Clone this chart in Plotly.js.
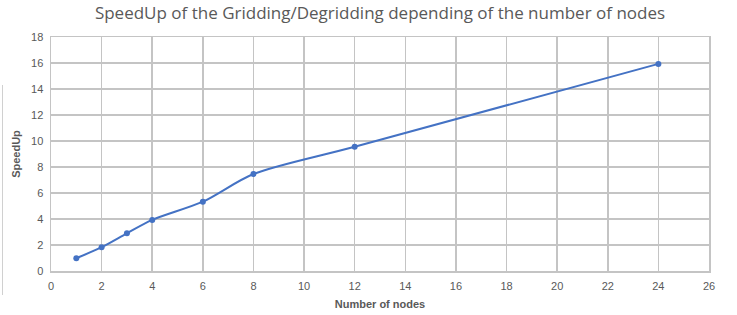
<!DOCTYPE html>
<html><head><meta charset="utf-8">
<script src="https://cdn.plot.ly/plotly-3.0.1.min.js"></script>
<style>body{margin:0;background:#fff}#c{width:737px;height:315px;position:relative}
#edge{position:absolute;left:2px;top:85px;width:0;height:210px;border-left:1px solid #d0d0d0;z-index:5}</style>
</head><body><div id="c"><div id="edge"></div></div>
<script>
const nodes = [1, 2, 3, 4, 6, 8, 12, 24];
const speedup = [0.98, 1.83, 2.9, 3.93, 5.33, 7.46, 9.56, 15.93];
const xTicks = [0,2,4,6,8,10,12,14,16,18,20,22,24,26];
const yTicks = [0,2,4,6,8,10,12,14,16,18];
const txt = '#595959';
Plotly.newPlot('c', [{
  x: nodes, y: speedup, type: 'scatter', mode: 'lines+markers',
  line: {color: '#4472C4', width: 2, shape: 'spline', smoothing: 0.8},
  marker: {color: '#4472C4', size: 6}
}], {
  width: 737, height: 315,
  margin: {l: 51, r: 28, t: 37, b: 44},
  paper_bgcolor: '#fff', plot_bgcolor: '#fff',
  font: {family: 'Liberation Sans, Arial, sans-serif', color: txt, size: 11},
  title: {text: 'SpeedUp of the Gridding/Degridding depending of the number of nodes',
    font: {size: 17, color: txt, family: 'Open Sans, Liberation Sans, sans-serif'}, xref: 'paper', x: 0.5, xanchor: 'center', y: 0.96, yanchor: 'middle'},
  showlegend: false,
  xaxis: {range: [0, 26], tickvals: xTicks, ticktext: xTicks.map(String), showgrid: true, gridcolor: '#c4c4c4', gridwidth: 1.5,
    showline: true, linecolor: '#c4c4c4', linewidth: 1.5, mirror: true, zeroline: false, ticks: '', ticklen: 0,
    ticklabelstandoff: 4,
    tickfont: {size: 11, color: txt},
    title: {text: '<b>Number of nodes</b>', font: {size: 11, color: txt}, standoff: 9}},
  yaxis: {range: [0, 18], tickvals: yTicks, ticktext: yTicks.map(String), showgrid: true, gridcolor: '#c4c4c4', gridwidth: 1.5,
    showline: true, linecolor: '#c4c4c4', linewidth: 1.5, mirror: true, zeroline: false, ticks: '',
    ticklabelstandoff: 4,
    tickfont: {size: 11, color: txt},
    title: {text: '<b>SpeedUp</b>', font: {size: 11, color: txt}, standoff: 8}}
}, {displayModeBar: false, staticPlot: true});
</script></body></html>
